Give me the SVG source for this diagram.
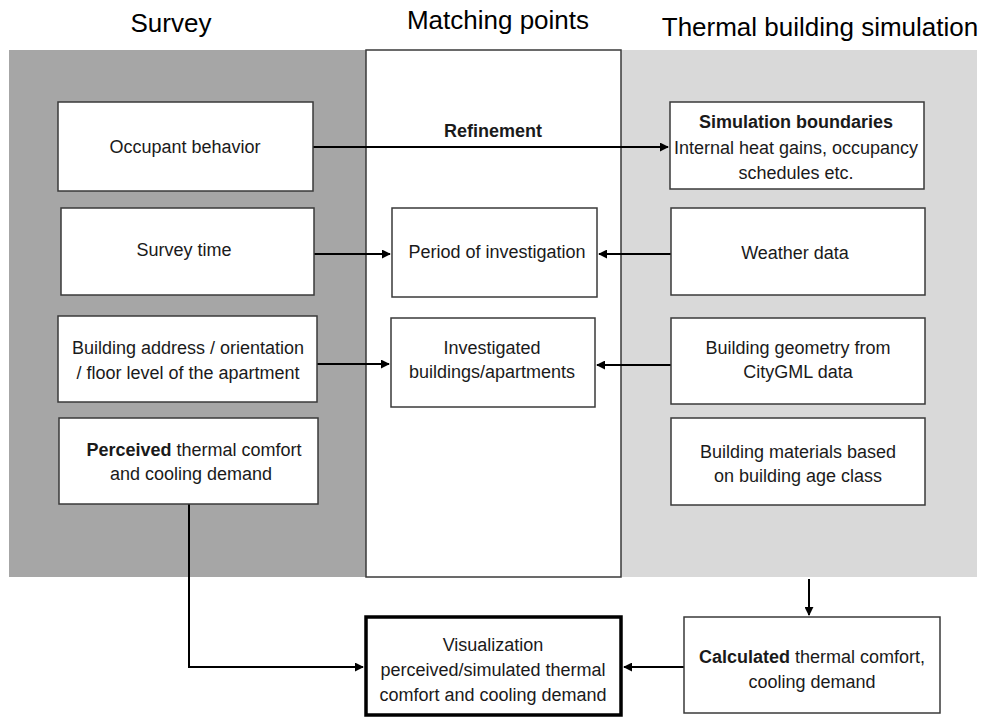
<svg xmlns="http://www.w3.org/2000/svg" width="981" height="718" viewBox="0 0 981 718">
<style>
  .t { font-family: "Liberation Sans", Arial, sans-serif; font-size: 18px; fill: #1a1a1a; text-anchor: middle; }
  .h { font-family: "Liberation Sans", Arial, sans-serif; font-size: 26px; fill: #000; text-anchor: middle; }
  .b { font-weight: bold; }
  .box { fill: #fff; stroke: #3a3a3a; stroke-width: 1.5; }
  .c { fill: none; stroke: #000; stroke-width: 2; }
</style>
<defs>
  <marker id="ah" viewBox="0 0 10 10" refX="9" refY="5" markerWidth="4.5" markerHeight="4.5" orient="auto" markerUnits="strokeWidth">
    <path d="M0,0 L10,5 L0,10 z" fill="#000"/>
  </marker>
</defs>
<rect width="981" height="718" fill="#fff"/>
<g id="panels">
  <rect x="9" y="50" width="358" height="527" fill="#a6a6a6"/>
  <rect x="620" y="50" width="357" height="527" fill="#d9d9d9"/>
  <rect id="matching-column" x="366" y="50" width="255" height="527" fill="#fff" stroke="#3a3a3a" stroke-width="1.5"/>
</g>
<g id="titles">
  <text class="h" x="171" y="32">Survey</text>
  <text class="h" x="498" y="29">Matching points</text>
  <text class="h" x="820" y="36">Thermal building simulation</text>
</g>
<g id="connectors">
  <line class="c" x1="313" y1="147" x2="668" y2="147" marker-end="url(#ah)"/>
  <line class="c" x1="314" y1="254" x2="390" y2="254" marker-end="url(#ah)"/>
  <line class="c" x1="671" y1="254" x2="599" y2="254" marker-end="url(#ah)"/>
  <line class="c" x1="317" y1="364" x2="389" y2="364" marker-end="url(#ah)"/>
  <line class="c" x1="671" y1="365" x2="597" y2="365" marker-end="url(#ah)"/>
  <polyline class="c" points="189,504 189,667 363,667" marker-end="url(#ah)"/>
  <line class="c" x1="809" y1="579" x2="809" y2="615" marker-end="url(#ah)"/>
  <line class="c" x1="684" y1="667" x2="624" y2="667" stroke-width="2.5" marker-end="url(#ah)"/>
</g>
<g id="refinement-label">
  <text class="t b" x="493" y="137">Refinement</text>
</g>
<g id="occupant-behavior">
  <rect class="box" x="58" y="102" width="255" height="89"/>
  <text class="t" x="185" y="153">Occupant behavior</text>
</g>
<g id="survey-time">
  <rect class="box" x="61" y="208" width="253" height="87"/>
  <text class="t" x="184" y="256">Survey time</text>
</g>
<g id="building-address">
  <rect class="box" x="58" y="316" width="259" height="86"/>
  <text class="t" x="188" y="354">Building address / orientation</text>
  <text class="t" x="188" y="379">/ floor level of the apartment</text>
</g>
<g id="perceived">
  <rect class="box" x="59" y="418" width="259" height="86"/>
  <text class="t" x="194" y="456"><tspan class="b">Perceived</tspan> thermal comfort</text>
  <text class="t" x="191" y="480">and cooling demand</text>
</g>
<g id="period-of-investigation">
  <rect class="box" x="392" y="208" width="205" height="89"/>
  <text class="t" x="497" y="258">Period of investigation</text>
</g>
<g id="investigated-buildings">
  <rect class="box" x="391" y="318" width="204" height="89"/>
  <text class="t" x="492" y="354">Investigated</text>
  <text class="t" x="492" y="378">buildings/apartments</text>
</g>
<g id="simulation-boundaries">
  <rect class="box" x="670" y="102" width="254" height="87"/>
  <text class="t b" x="796" y="128">Simulation boundaries</text>
  <text class="t" x="796" y="154">Internal heat gains, occupancy</text>
  <text class="t" x="796" y="179">schedules etc.</text>
</g>
<g id="weather-data">
  <rect class="box" x="671" y="208" width="254" height="87"/>
  <text class="t" x="795" y="259">Weather data</text>
</g>
<g id="building-geometry">
  <rect class="box" x="671" y="318" width="254" height="86"/>
  <text class="t" x="798" y="354">Building geometry from</text>
  <text class="t" x="798" y="378">CityGML data</text>
</g>
<g id="building-materials">
  <rect class="box" x="671" y="418" width="254" height="87"/>
  <text class="t" x="798" y="458">Building materials based</text>
  <text class="t" x="798" y="482">on building age class</text>
</g>
<g id="visualization">
  <rect x="366" y="617" width="255" height="98" fill="#fff" stroke="#000" stroke-width="3.5"/>
  <text class="t" x="493" y="651">Visualization</text>
  <text class="t" x="493" y="676">perceived/simulated thermal</text>
  <text class="t" x="493" y="701">comfort and cooling demand</text>
</g>
<g id="calculated">
  <rect class="box" x="684" y="617" width="256" height="96"/>
  <text class="t" x="812" y="663"><tspan class="b">Calculated</tspan> thermal comfort,</text>
  <text class="t" x="812" y="688">cooling demand</text>
</g>
</svg>
